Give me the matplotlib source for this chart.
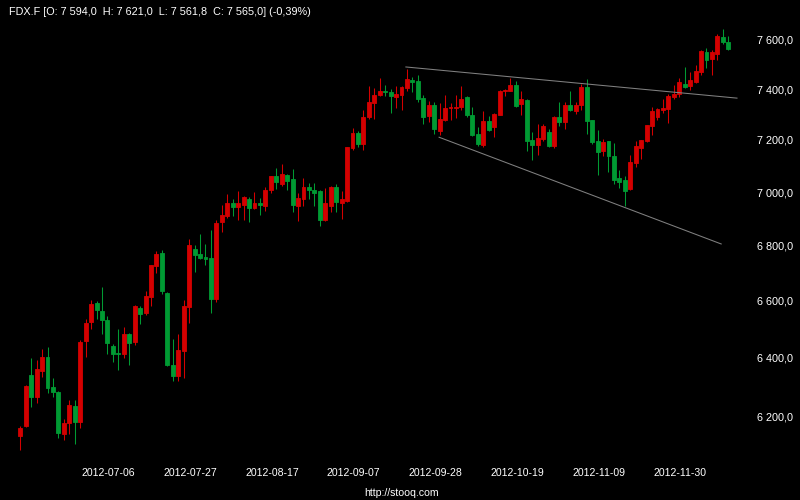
import matplotlib
matplotlib.use("Agg")
import matplotlib.pyplot as plt
import matplotlib.transforms as mtransforms
import numpy as np

# dzienne swiece FDX.F (czerwona = wzrost, zielona = spadek)
opens = [6138, 6171, 6345, 6269, 6360, 6406, 6305, 6288, 6145, 6181,
         6241, 6187, 6463, 6528, 6597, 6569, 6535, 6444, 6420, 6417,
         6488, 6459, 6580, 6560, 6619, 6730, 6776, 6633, 6379, 6341,
         6428, 6581, 6790, 6772, 6761, 6758, 6612, 6893, 6912, 6963,
         6949, 6956, 6978, 6942, 6963, 6952, 7010, 7064, 7035, 7068,
         7053, 6952, 6979, 7023, 7012, 7008, 6897, 6952, 7023, 6963,
         6971, 7173, 7230, 7186, 7292, 7350, 7380, 7398, 7394, 7373,
         7380, 7410, 7441, 7437, 7370, 7299, 7342, 7237, 7280, 7330,
         7328, 7334, 7374, 7303, 7226, 7183, 7276, 7253, 7303, 7398,
         7398, 7421, 7346, 7362, 7203, 7183, 7206, 7233, 7180, 7292,
         7272, 7342, 7315, 7342, 7413, 7280, 7199, 7160, 7199, 7141,
         7057, 7050, 7016, 7114, 7172, 7199, 7256, 7295, 7322, 7326,
         7374, 7386, 7425, 7417, 7433, 7473, 7554, 7525, 7546, 7615,
         7594.0]
highs = [6171, 6310, 6403, 6395, 6434, 6441, 6335, 6291, 6197, 6261,
         6261, 6465, 6538, 6608, 6604, 6655, 6549, 6452, 6506, 6510,
         6490, 6590, 6587, 6640, 6733, 6783, 6787, 6636, 6469, 6486,
         6608, 6827, 6805, 6845, 6809, 6860, 6897, 6956, 6997, 6978,
         7008, 6988, 6985, 7004, 6982, 7024, 7066, 7095, 7110, 7072,
         7091, 7001, 7057, 7038, 7038, 7010, 7019, 7027, 7035, 7008,
         7178, 7249, 7237, 7319, 7417, 7410, 7449, 7421, 7406, 7417,
         7417, 7485, 7453, 7461, 7382, 7358, 7354, 7350, 7382, 7350,
         7382, 7417, 7376, 7334, 7253, 7315, 7299, 7309, 7401, 7406,
         7449, 7437, 7398, 7366, 7233, 7264, 7264, 7245, 7299, 7354,
         7354, 7398, 7354, 7425, 7445, 7282, 7241, 7206, 7201, 7191,
         7087, 7064, 7145, 7199, 7205, 7262, 7334, 7328, 7366, 7386,
         7421, 7449, 7493, 7473, 7501, 7562, 7570, 7562, 7628, 7648,
         7621.0]
lows = [6094, 6168, 6236, 6249, 6338, 6282, 6271, 6133, 6125, 6145,
        6113, 6167, 6407, 6506, 6538, 6486, 6417, 6389, 6363, 6404,
        6379, 6448, 6521, 6553, 6587, 6704, 6629, 6376, 6325, 6325,
        6336, 6525, 6709, 6754, 6733, 6560, 6601, 6854, 6906, 6912,
        6897, 6897, 6890, 6938, 6916, 6934, 6999, 7016, 7027, 7012,
        6930, 6894, 6952, 6978, 6952, 6875, 6894, 6930, 6930, 6901,
        6967, 7164, 7175, 7164, 7284, 7284, 7378, 7375, 7311, 7330,
        7319, 7398, 7394, 7354, 7264, 7272, 7226, 7222, 7278, 7280,
        7288, 7319, 7292, 7218, 7180, 7175, 7237, 7214, 7300, 7375,
        7396, 7334, 7303, 7160, 7126, 7145, 7199, 7175, 7172, 7256,
        7245, 7315, 7307, 7322, 7226, 7187, 7068, 7141, 7080, 7035,
        7019, 6952, 7012, 7099, 7129, 7195, 7222, 7280, 7311, 7268,
        7366, 7374, 7410, 7401, 7429, 7461, 7489, 7461, 7521, 7586,
        7561.8]
closes = [6167, 6308, 6269, 6365, 6406, 6299, 6286, 6149, 6184, 6244,
          6187, 6458, 6527, 6594, 6573, 6535, 6457, 6417, 6418, 6488,
          6457, 6584, 6559, 6622, 6733, 6772, 6640, 6379, 6341, 6430,
          6584, 6805, 6770, 6758, 6754, 6609, 6889, 6919, 6963, 6949,
          6963, 6985, 6942, 6963, 6956, 7012, 7064, 7042, 7072, 7046,
          6956, 6982, 7023, 7012, 7001, 6897, 6963, 7023, 6967, 6978,
          7176, 7230, 7186, 7295, 7354, 7382, 7398, 7394, 7375, 7386,
          7413, 7445, 7433, 7366, 7295, 7342, 7245, 7284, 7330, 7334,
          7332, 7366, 7303, 7222, 7187, 7276, 7241, 7307, 7398, 7401,
          7421, 7338, 7366, 7199, 7183, 7210, 7256, 7180, 7292, 7272,
          7342, 7322, 7342, 7413, 7276, 7195, 7157, 7195, 7141, 7050,
          7042, 7008, 7118, 7179, 7203, 7260, 7315, 7326, 7330, 7378,
          7386, 7433, 7413, 7441, 7477, 7558, 7521, 7554, 7619, 7594.6,
          7565.0]

# linie trendu: (nr swiecy, cena)
trend_upper_x = [70.8, 131.6]
trend_upper_y = [7493, 7368]
trend_lower_x = [76.9, 128.7]
trend_lower_y = [7214, 6810]

price_ticks = [6200, 6400, 6600, 6800, 7000, 7200, 7400, 7600]
date_tick_idx = [16, 31, 46, 61, 76, 91, 106, 121]
date_labels = ["2012-07-06", "2012-07-27", "2012-08-17", "2012-09-07",
               "2012-09-28", "2012-10-19", "2012-11-09", "2012-11-30"]

UP = "#d40000"
DOWN = "#009a33"
FONT = ["Liberation Sans", "DejaVu Sans"]


def pl(v):
    # 7594.0 -> "7 594,0"
    s = "{:,.1f}".format(v)
    return s.replace(",", " ").replace(".", ",")


def display():
    o = np.array(opens)
    h = np.array(highs)
    l = np.array(lows)
    c = np.array(closes)
    x = np.arange(len(o))
    colors = np.where(c >= o, UP, DOWN)

    fig = plt.figure(figsize=(8, 5), dpi=100, facecolor="black")
    ax = fig.add_axes([0, 0, 1, 1])
    ax.set_facecolor("black")
    ax.set_yscale("log")
    ax.set_xlim(-3.727, 143.17)
    ax.set_ylim(5930.7, 7768.9)
    ax.axis("off")

    # cienie + korpusy
    ax.vlines(x, l, h, colors=colors, linewidth=0.75)
    bottom = np.minimum(o, c)
    height = np.abs(c - o)
    ax.bar(x, height, bottom=bottom, width=0.72, color=colors,
           edgecolor=colors, linewidth=0.6)

    ax.plot(trend_upper_x, trend_upper_y, color="#808080", linewidth=0.75)
    ax.plot(trend_lower_x, trend_lower_y, color="#808080", linewidth=0.75)

    # os cen po prawej
    tr_y = mtransforms.blended_transform_factory(ax.transAxes, ax.transData)
    for p in price_ticks:
        ax.text(0.991, p, pl(p), transform=tr_y, ha="right", va="center",
                color="white", fontsize=7.8, family=FONT)

    # daty na dole
    tr_x = mtransforms.blended_transform_factory(ax.transData, ax.transAxes)
    for i, lab in zip(date_tick_idx, date_labels):
        ax.text(i + 0.2, 0.0534, lab, transform=tr_x, ha="center", va="center",
                color="white", fontsize=7.6, family=FONT)

    fig.text(0.502, 0.0146, "http://stooq.com", ha="center", va="center",
             color="white", fontsize=7.6, family=FONT)

    pct = (c[-1] - c[-2]) / c[-2] * 100
    title = "FDX.F [O: {}  H: {}  L: {}  C: {}] ({}%)".format(
        pl(o[-1]), pl(h[-1]), pl(l[-1]), pl(c[-1]),
        "{:.2f}".format(pct).replace(".", ","))
    fig.text(9 / 800, 1 - 12 / 500, title, ha="left", va="center",
             color="white", fontsize=7.8, family=FONT)

    fig.savefig("out.png", dpi=100, facecolor="black")


if __name__ == '__main__':
    display()
